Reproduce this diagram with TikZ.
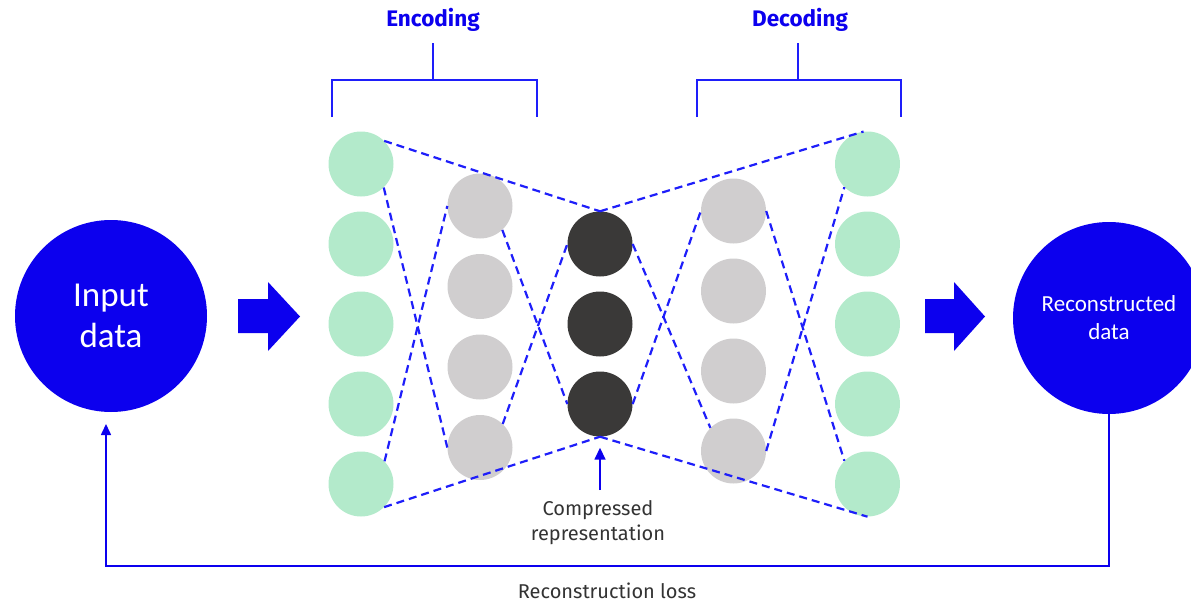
\documentclass[tikz,border=0pt]{standalone}
\usepackage{fontspec}
\setmainfont{Fira Sans}
\newfontfamily\calibri{Carlito}
\usetikzlibrary{arrows.meta}
\definecolor{mainblue}{RGB}{12,0,238}
\definecolor{lineblue}{RGB}{30,30,250}
\definecolor{neurgreen}{RGB}{179,234,203}
\definecolor{neurgray}{RGB}{208,206,207}
\definecolor{neurdark}{RGB}{58,57,56}
\definecolor{txtgray}{RGB}{51,51,51}
\begin{document}
\begin{tikzpicture}[x=1pt,y=-1pt,
  neuron/.style={circle,minimum size=65pt,inner sep=0pt,draw=none},
  gn/.style={neuron,fill=neurgreen},
  mn/.style={neuron,fill=neurgray},
  dn/.style={neuron,fill=neurdark},
  big/.style={circle,minimum size=192pt,inner sep=0pt,fill=mainblue,text=white,align=center},
  link/.style={draw=lineblue,line width=2.2pt,dash pattern=on 8pt off 5pt},
  bracket/.style={draw=lineblue,line width=2pt},
  fb/.style={draw=mainblue,line width=1.6pt},
  head/.style={text=mainblue,font=\bfseries\fontsize{22.5}{27}\selectfont},
  note/.style={text=txtgray,font=\fontsize{20}{25}\selectfont,align=center,inner sep=0pt}
]
\useasboundingbox (0,0) rectangle (1191,605);

% big circles
\node[big,font=\calibri\fontsize{35}{41}\selectfont] (inp) at (111,316) {Input\\data};
\node[big,font=\calibri\fontsize{23}{28}\selectfont] (rec) at (1109,318) {Reconstructed\\data};

% neurons
\foreach \i in {1,...,5} {
  \node[gn] (gl\i) at (361,{164+80*(\i-1)}) {};
  \node[gn] (gr\i) at (867.5,{164+80*(\i-1)}) {};
}
\foreach \i in {1,...,4} {
  \node[mn] (ml\i) at (480,{206+80.5*(\i-1)}) {};
  \node[mn] (mr\i) at (733.5,{211+80*(\i-1)}) {};
}
\foreach \i in {1,...,3} {
  \node[dn] (d\i) at (600,{244+80*(\i-1)}) {};
}

% dashed connections
\draw[link] (gl1.45) -- (d1.north);
\draw[link] (d1.north) -- (gr1.97);
\draw[link] (gl5.-45) -- (d3.south);
\draw[link] (d3.south) -- (gr5.south);
\draw[link] (gl1.-46) -- (ml4.west);
\draw[link] (gl5.44) -- (ml1.west);
\draw[link] (ml1.-47) -- (d3.west);
\draw[link] (ml4.46) -- (d1.west);
\draw[link] (d1.east) -- (mr4.135);
\draw[link] (d3.east) -- (mr1.west);
\draw[link] (mr1.east) -- (gr5.135);
\draw[link] (mr4.east) -- (gr1.225);

% block arrows
\fill[mainblue] (238,299) -- (268,299) -- (268,282) -- (300,316.5) -- (268,351) -- (268,333) -- (238,333) -- cycle;
\fill[mainblue] (925,299) -- (954,299) -- (954,282) -- (985,316.5) -- (954,351) -- (954,333) -- (925,333) -- cycle;

% brackets
\draw[bracket] (332,117) -- (332,80) -- (537,80) -- (537,117);
\draw[bracket] (433,80) -- (433,43);
\node[head,anchor=base] (enc) at (433,27) {Encoding};
\draw[bracket] (697,117) -- (697,80) -- (901,80) -- (901,117);
\draw[bracket] (798,80) -- (798,43);
\node[head,anchor=base] (dec) at (800,27) {Decoding};

% compressed representation
\node[note,anchor=base] (comp) at (598,540) {Compressed\\representation};
\coordinate (ctail) at (600,490);
\draw[fb,-{Triangle[width=11pt,length=12pt]}] (ctail) -- ([yshift=-11pt]d3.south);

% reconstruction loss
\node[note,anchor=base] (loss) at (607,598) {Reconstruction loss};
\coordinate (fbturn) at (106,566);
\coordinate (fbend) at (106,424);
\draw[fb,-{Triangle[width=10pt,length=11pt]}] (rec.south) |- (fbturn) -- (fbend);
\end{tikzpicture}
\end{document}
